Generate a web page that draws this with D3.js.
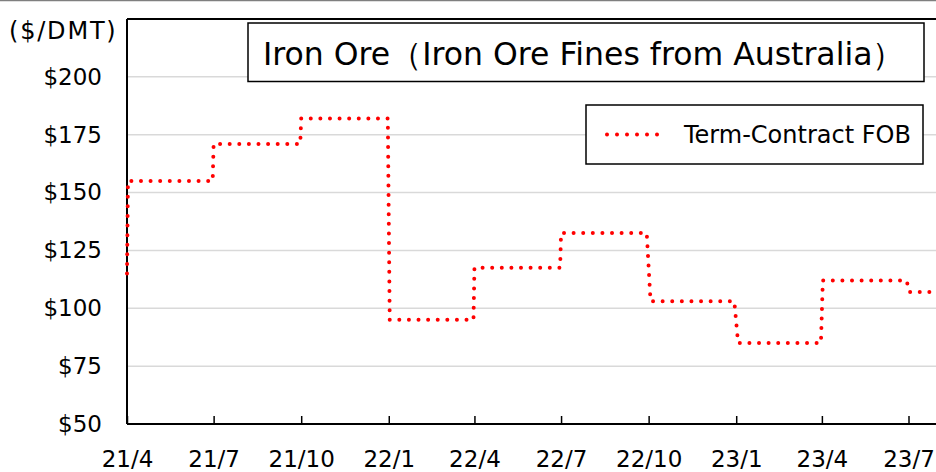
<!DOCTYPE html>
<html>
<head>
<meta charset="utf-8">
<script src="https://cdn.jsdelivr.net/npm/d3@7"></script>
<style>
  body { margin: 0; background: #fff; }
  svg { display: block; font-family: "DejaVu Sans", Verdana, sans-serif; }
</style>
</head>
<body>
<svg width="936" height="472"></svg>
<script>
// term contract price, stepped by quarter
const dates = ["2021-04-01","2021-04-02","2021-06-30","2021-07-01","2021-09-30","2021-10-01",
  "2021-12-31","2022-01-02","2022-03-31","2022-04-01","2022-06-30","2022-07-01",
  "2022-09-29","2022-10-03","2022-12-30","2023-01-03","2023-03-31","2023-04-02",
  "2023-06-29","2023-07-02","2023-07-31"];
const values = [115,155,155,171,171,182,182,95,95,117.5,117.5,132.5,132.5,103,103,85,85,112,112,107,107];

const tickDates = ["2021-04-01","2021-07-01","2021-10-01","2022-01-01","2022-04-01","2022-07-01",
  "2022-10-01","2023-01-01","2023-04-01","2023-07-01"];
const tickLabels = ["21/4","21/7","21/10","22/1","22/4","22/7","22/10","23/1","23/4","23/7"];
const yTicks = [50,75,100,125,150,175,200];

const title = "Iron Ore（Iron Ore Fines from Australia）";
const seriesName = "Term-Contract FOB";
const unit = "($/DMT)";

const width = 936, height = 472;
const plotLeft = 127, plotTop = 19, plotBottom = 424;

const parse = d3.utcParse("%Y-%m-%d");
const data = dates.map((d, i) => ({date: parse(d), value: values[i]}));

const x = d3.scaleUtc()
    .domain([parse("2021-04-01"), parse("2023-07-01")])
    .range([plotLeft, 908.5]);
const y = d3.scaleLinear()
    .domain([50, 225])
    .range([plotBottom, plotTop]);

const svg = d3.select("svg");

// outer frame line at the very top
svg.append("line")
    .attr("x1", 0).attr("x2", width).attr("y1", 0.5).attr("y2", 0.5)
    .attr("stroke", "#7f7f7f").attr("stroke-width", 1.5);

// gridlines
svg.append("g")
  .selectAll("line")
  .data(yTicks.filter(d => d > 50))
  .join("line")
    .attr("x1", plotLeft).attr("x2", width)
    .attr("y1", d => y(d)).attr("y2", d => y(d))
    .attr("stroke", "#d9d9d9").attr("stroke-width", 1.5);

// y labels
const yAxis = svg.append("g")
    .attr("transform", `translate(${plotLeft},0)`)
    .call(d3.axisLeft(y).tickValues(yTicks).tickSize(0).tickPadding(25).tickFormat(d => "$" + d));
yAxis.select(".domain").remove();
yAxis.selectAll("text")
    .attr("font-size", 23).attr("font-family", "DejaVu Sans").attr("fill", "#000");

// x axis
const xAxis = svg.append("g")
    .attr("transform", `translate(0,${plotBottom})`)
    .call(d3.axisBottom(x).tickValues(tickDates.map(parse)).tickSizeInner(-8).tickSizeOuter(0)
      .tickFormat((d, i) => tickLabels[i]));
xAxis.select(".domain").remove();
xAxis.selectAll(".tick line").attr("stroke", "#000").attr("stroke-width", 1.5);
xAxis.selectAll("text")
    .attr("y", 43).attr("dy", null)
    .attr("font-size", 23).attr("font-family", "DejaVu Sans").attr("fill", "#000");

// plot frame: top border, left axis, bottom axis
svg.append("line")
    .attr("x1", plotLeft).attr("x2", width).attr("y1", plotTop).attr("y2", plotTop)
    .attr("stroke", "#000").attr("stroke-width", 2);
svg.append("line")
    .attr("x1", plotLeft).attr("x2", plotLeft).attr("y1", plotTop).attr("y2", plotBottom)
    .attr("stroke", "#000").attr("stroke-width", 2);
svg.append("line")
    .attr("x1", plotLeft).attr("x2", width).attr("y1", plotBottom).attr("y2", plotBottom)
    .attr("stroke", "#000").attr("stroke-width", 2);

// unit label
svg.append("text")
    .attr("x", 9).attr("y", 39)
    .attr("font-size", 24)
    .attr("letter-spacing", 1.8)
    .text(unit);

// the series
const line = d3.line()
    .x(d => x(d.date))
    .y(d => y(d.value));

svg.append("path")
    .datum(data)
    .attr("fill", "none")
    .attr("stroke", "#ff0000")
    .attr("stroke-width", 4)
    .attr("stroke-linecap", "round")
    .attr("stroke-dasharray", "0 9.6")
    .attr("d", line);

// title box
svg.append("rect")
    .attr("x", 248).attr("y", 23).attr("width", 676).attr("height", 58.5)
    .attr("fill", "#fff").attr("stroke", "#000").attr("stroke-width", 1.5);
svg.append("text")
    .attr("x", 263).attr("y", 65)
    .attr("font-size", 31.5)
    .text(title);

// legend
svg.append("rect")
    .attr("x", 586).attr("y", 105).attr("width", 337).attr("height", 59)
    .attr("fill", "#fff").attr("stroke", "#000").attr("stroke-width", 1.5);
svg.append("line")
    .attr("x1", 607).attr("x2", 667).attr("y1", 134.5).attr("y2", 134.5)
    .attr("stroke", "#ff0000").attr("stroke-width", 4)
    .attr("stroke-linecap", "round")
    .attr("stroke-dasharray", "0 10");
svg.append("text")
    .attr("x", 684).attr("y", 143)
    .attr("font-size", 24)
    .text(seriesName);
</script>
</body>
</html>
